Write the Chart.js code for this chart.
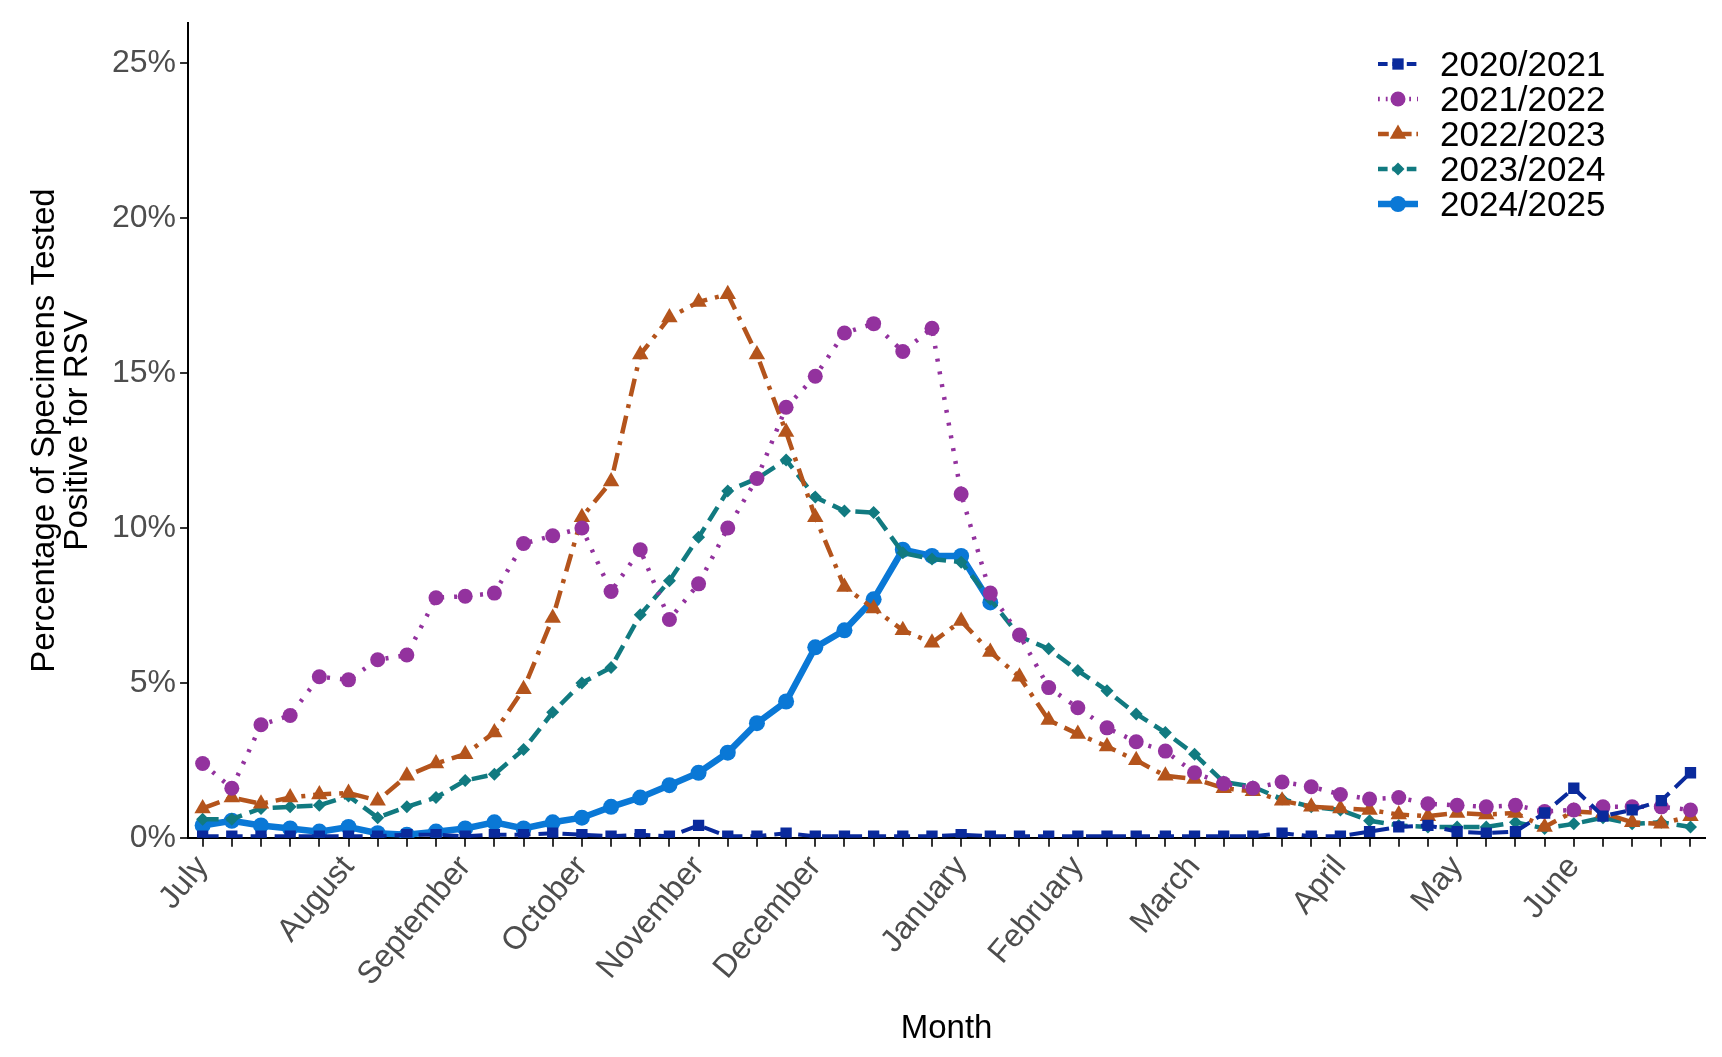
<!DOCTYPE html>
<html><head><meta charset="utf-8">
<script src="https://cdn.jsdelivr.net/npm/chart.js@4.4.0/dist/chart.umd.min.js"></script>
<style>html,body{margin:0;padding:0;background:#fff}#w{width:1722px;height:1057px}</style>
</head><body><div id="w"><canvas id="c"></canvas></div>
<script>
const monthLabels = {0:'July',5:'August',9:'September',13:'October',17:'November',21:'December',26:'January',30:'February',34:'March',39:'April',43:'May',47:'June'};
const weeks = Array.from({length:52},(_,i)=>monthLabels[i]||'');
const s2020 = [0.05,0.05,0.05,0.05,0.05,0.05,0.05,0.1,0.1,0.05,0.1,0.1,0.15,0.1,0.05,0.1,0.05,0.4,0.05,0.05,0.15,0.05,0.05,0.05,0.05,0.05,0.1,0.05,0.05,0.05,0.05,0.05,0.05,0.05,0.05,0.05,0.05,0.15,0.05,0.05,0.2,0.35,0.4,0.2,0.15,0.2,0.8,1.6,0.7,0.9,1.2,2.1];
const s2021 = [2.4,1.6,3.65,3.95,5.2,5.1,5.75,5.9,7.75,7.8,7.9,9.5,9.75,10.0,7.95,9.3,7.05,8.2,10.0,11.6,13.9,14.9,16.3,16.6,15.7,16.45,11.1,7.9,6.55,4.85,4.2,3.55,3.1,2.8,2.1,1.75,1.6,1.8,1.65,1.4,1.25,1.3,1.1,1.05,1.0,1.05,0.85,0.9,1.0,1.0,1.0,0.9];
const s2022 = [0.95,1.3,1.1,1.3,1.4,1.45,1.2,2.0,2.4,2.7,3.4,4.8,7.1,10.35,11.5,15.6,16.8,17.3,17.55,15.6,13.1,10.35,8.1,7.4,6.7,6.3,7.0,6.0,5.2,3.8,3.35,2.95,2.5,2.0,1.9,1.6,1.5,1.2,1.0,0.95,0.9,0.75,0.7,0.8,0.75,0.8,0.35,0.85,0.8,0.5,0.45,0.7];
const s2023 = [0.6,0.6,0.95,1.0,1.05,1.35,0.65,1.0,1.3,1.85,2.05,2.85,4.05,5.0,5.5,7.2,8.3,9.7,11.2,11.6,12.2,11.0,10.55,10.5,9.2,9.0,8.9,7.7,6.5,6.1,5.4,4.75,4.0,3.4,2.7,1.8,1.65,1.25,1.0,0.9,0.55,0.4,0.35,0.35,0.35,0.5,0.3,0.45,0.65,0.45,0.5,0.35];
const s2024 = [0.4,0.55,0.4,0.3,0.2,0.35,0.15,0.1,0.2,0.3,0.5,0.3,0.5,0.65,1.0,1.3,1.7,2.1,2.75,3.7,4.4,6.15,6.7,7.7,9.3,9.1,9.1,7.6];
const yTicks = [0,5,10,15,20,25];

const F = "'Liberation Sans', Arial, sans-serif";
const series = [
 {label:'2020/2021',data:s2020,color:'#0a2a9c',dash:[16,8],style:'rect',r:8,w:4},
 {label:'2021/2022',data:s2021,color:'#93329e',dash:[3,10],style:'circle',r:7.5,w:4.5},
 {label:'2022/2023',data:s2022,color:'#b4541c',dash:[18,8,4,8],style:'triangle',r:9.5,w:4.5},
 {label:'2023/2024',data:s2023,color:'#117a80',dash:[16,8],style:'rectRot',r:6.5,w:4.5},
 {label:'2024/2025',data:s2024,color:'#0a78d6',dash:[],style:'circle',r:8,w:6.5}
];
const datasets = series.map(s=>({label:s.label,data:s.data,borderColor:s.color,backgroundColor:s.color,borderDash:s.dash,pointStyle:s.style,pointRadius:s.r,pointBorderWidth:0,borderWidth:s.w,tension:0,spanGaps:false}));

const legendPlugin = {id:'lg',afterDraw(ch){
  const c=ch.ctx; c.save();
  let x0=1378,y0=64;
  series.forEach((s,i)=>{
    const y=y0+i*35;
    c.strokeStyle=s.color;c.lineWidth=s.w;c.setLineDash(s.dash.map(v=>v*0.6));
    c.beginPath();c.moveTo(x0,y);c.lineTo(x0+40,y);c.stroke();c.setLineDash([]);
    c.fillStyle=s.color;
    Chart.helpers.drawPoint(c,{pointStyle:s.style,radius:s.r,borderWidth:0},x0+20,y);
    c.fillStyle='#000';c.font='35px '+F;c.textBaseline='middle';c.fillText(s.label,x0+62,y+2);
  });
  c.restore();
}};
Chart.register(legendPlugin);

new Chart(document.getElementById('c'),{type:'line',data:{labels:weeks,datasets},
options:{responsive:true,maintainAspectRatio:false,animation:false,
 layout:{padding:{left:24,right:0,top:-5,bottom:4}},
 plugins:{legend:{display:false},tooltip:{enabled:false}},
 scales:{
  x:{offset:true,grid:{drawOnChartArea:false,drawTicks:true,tickLength:9,color:'#333',lineWidth:2,offset:false},border:{display:true,color:'#000',width:2},
     ticks:{autoSkip:false,minRotation:50,maxRotation:50,color:'#4d4d4d',font:{family:F,size:32},padding:2},
     title:{display:true,text:'Month',color:'#000',font:{family:F,size:33},padding:{top:14}}},
  y:{min:0,max:26.3,afterBuildTicks(a){a.ticks=yTicks.map(v=>({value:v}));},
     grid:{drawOnChartArea:false,drawTicks:true,tickLength:8,color:'#333',lineWidth:2},border:{display:true,color:'#000',width:2},
     ticks:{color:'#4d4d4d',font:{family:F,size:32},callback:v=>v+'%',padding:4},
     title:{display:true,text:['Percentage of Specimens Tested','Positive for RSV'],color:'#000',font:{family:F,size:33,lineHeight:1.0},padding:{bottom:14}}}
 }}});
</script></body></html>
